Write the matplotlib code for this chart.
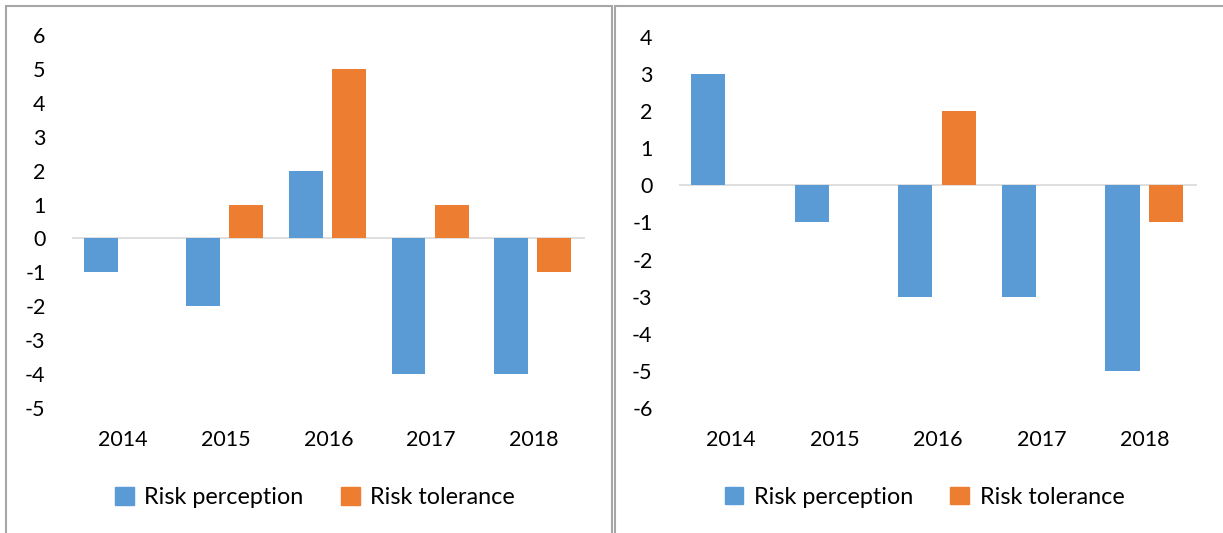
import matplotlib.pyplot as plt
from matplotlib.patches import Rectangle, Patch
import numpy as np

years = ['2014', '2015', '2016', '2017', '2018']

# left chart
left_perception = [-1, -2, 2, -4, -4]
left_tolerance = [0, 1, 5, 1, -1]
left_ticks = list(range(-5, 7))

# right chart
right_perception = [3, -1, -3, -3, -5]
right_tolerance = [0, 0, 2, 0, -1]
right_ticks = list(range(-6, 5))

blue = '#5B9BD5'
orange = '#ED7D31'

plt.rcParams['font.family'] = ['Lato', 'DejaVu Sans']

W, H = 1223, 533
fig = plt.figure(figsize=(W / 100, H / 100), dpi=100)


def px_axes(x0, y0, x1, y1):
    # pixel box (top-left origin) -> figure axes
    return fig.add_axes([x0 / W, 1 - y1 / H, (x1 - x0) / W, (y1 - y0) / H])


def draw_chart(ax, perception, tolerance, ticks):
    x = np.arange(len(years))
    ax.bar(x - 0.22, perception, width=0.33, color=blue, zorder=2)
    ax.bar(x + 0.2, tolerance, width=0.33, color=orange, zorder=2)
    ax.axhline(0, color='#d9d9d9', lw=1.2, zorder=1)
    ax.set_xlim(-0.5, len(years) - 0.5)
    ax.set_ylim(ticks[0], ticks[-1])
    ax.set_yticks(ticks)
    ax.set_yticklabels([str(t) for t in ticks])
    ax.set_xticks(x)
    ax.set_xticklabels(years)
    ax.tick_params(axis='y', length=0, pad=19, labelsize=15.5)
    ax.tick_params(axis='x', length=0, pad=16, labelsize=15.5)
    for s in ax.spines.values():
        s.set_visible(False)
    ax.patch.set_alpha(0)


# panel frames
fig.patches.append(Rectangle((6 / W, -0.1), (612 - 6) / W, 1.1 - 6 / H,
                             transform=fig.transFigure, fill=False,
                             edgecolor='#a6a6a6', lw=1.5))
fig.patches.append(Rectangle((615 / W, -0.1), 1.0, 1.1 - 6 / H,
                             transform=fig.transFigure, fill=False,
                             edgecolor='#a6a6a6', lw=1.5))

ax1 = px_axes(72, 35, 585, 408)
draw_chart(ax1, left_perception, left_tolerance, left_ticks)

ax2 = px_axes(679, 37, 1197, 408)
draw_chart(ax2, right_perception, right_tolerance, right_ticks)

handles = [Patch(color=blue, label='Risk perception'),
           Patch(color=orange, label='Risk tolerance')]
for ax in (ax1, ax2):
    ax.legend(handles=handles, loc='center', bbox_to_anchor=(0.474, -0.24),
              ncol=2, frameon=False, fontsize=16.8, handlelength=0.8,
              handleheight=0.8, handletextpad=0.45, columnspacing=1.6)

fig.savefig('out.png', dpi=100)
